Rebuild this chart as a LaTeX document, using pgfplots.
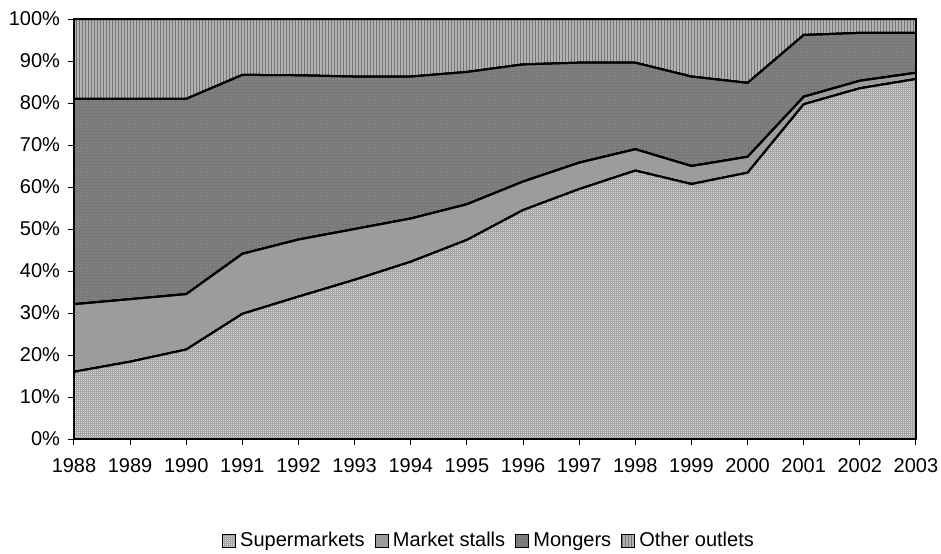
\documentclass[border=0pt]{standalone}
\usepackage{pgfplots}
\pgfplotsset{compat=1.18}
\usepackage{pgfplotstable}
\usetikzlibrary{patterns.meta}
\usepackage{fontspec}
\setmainfont{Liberation Sans}

\pgfplotstableread{
year S    M    Mo   O
1988 16.0 16.1 48.9 19.0
1989 18.4 14.9 47.7 19.0
1990 21.3 13.2 46.5 19.0
1991 29.8 14.3 42.6 13.3
1992 33.9 13.6 39.1 13.4
1993 37.9 12.1 36.3 13.7
1994 42.2 10.3 33.8 13.7
1995 47.4 8.5  31.5 12.6
1996 54.5 6.8  27.9 10.8
1997 59.5 6.3  23.8 10.4
1998 63.9 5.1  20.6 10.4
1999 60.7 4.3  21.3 13.7
2000 63.4 3.8  17.6 15.2
2001 79.7 1.8  14.7 3.8
2002 83.5 1.8  11.4 3.3
2003 85.7 1.5  9.5  3.3
}\datatable

\definecolor{supC}{gray}{0.86}
\definecolor{supP}{gray}{0.64}
\definecolor{stC}{gray}{0.60}
\definecolor{stP}{gray}{0.76}
\definecolor{moC}{gray}{0.47}
\definecolor{moP}{gray}{0.64}
\definecolor{otC}{gray}{0.46}
\definecolor{otP}{gray}{0.70}

\begin{document}
\begin{tikzpicture}
\fontsize{10}{12}\selectfont
\begin{axis}[
  at={(0,0)}, anchor=south west,
  scale only axis,
  width=421pt, height=210pt,
  xmin=1988, xmax=2003,
  ymin=0, ymax=100,
  stack plots=y,
  axis on top,
  axis line style={black, line width=0.8pt},
  xtick={1988,1989,...,2003},
  ytick={0,10,...,100},
  xticklabel={\pgfmathprintnumber[1000 sep={}]{\tick}},
  yticklabel={\pgfmathprintnumber{\tick}\%},
  /pgf/number format/assume math mode=true,
  tick align=outside,
  major tick length=3pt,
  tick style={black, line width=0.5pt},
  xtick pos=bottom, ytick pos=left,
  tick label style={font=\fontsize{10}{12}\selectfont},
  xticklabel style={yshift=-3pt},
  yticklabel style={xshift=-0.5pt},
  legend style={draw=none, fill=none, at={(0.494,-0.243)}, anchor=center,
    legend columns=-1, font=\fontsize{10}{12}\selectfont,
    /tikz/every even column/.append style={column sep=3pt},
    inner sep=0pt},
  legend cell align=left,
  legend image code/.code={\draw[#1, line width=0.5pt] (0pt,-3.3pt) rectangle (6.6pt,3.3pt);},
]
\addplot[draw=black, line width=1pt, fill=supC,
  postaction={pattern={Hatch[distance=1pt, line width=0.3pt]}, pattern color=supP}]
  table[x=year, y=S] {\datatable} \closedcycle;
\addlegendentry{Supermarkets}
\addplot[draw=black, line width=1pt, fill=stC,
  postaction={pattern={Dots[distance=1pt, radius=0.22pt]}, pattern color=stP}]
  table[x=year, y=M] {\datatable} \closedcycle;
\addlegendentry{Market stalls}
\addplot[draw=black, line width=1pt, fill=moC,
  postaction={pattern={Dots[distance=1.5pt, radius=0.3pt]}, pattern color=moP}]
  table[x=year, y=Mo] {\datatable} \closedcycle;
\addlegendentry{Mongers}
\addplot[draw=black, line width=1pt, fill=otC,
  postaction={pattern={Lines[angle=90, distance=1.5pt, line width=0.7pt]}, pattern color=otP}]
  table[x=year, y=O] {\datatable} \closedcycle;
\addlegendentry{Other outlets}
\end{axis}
\pgfresetboundingbox
\path[use as bounding box] (-37pt,-57pt) rectangle (433.5pt,219.5pt);
\end{tikzpicture}
\end{document}
